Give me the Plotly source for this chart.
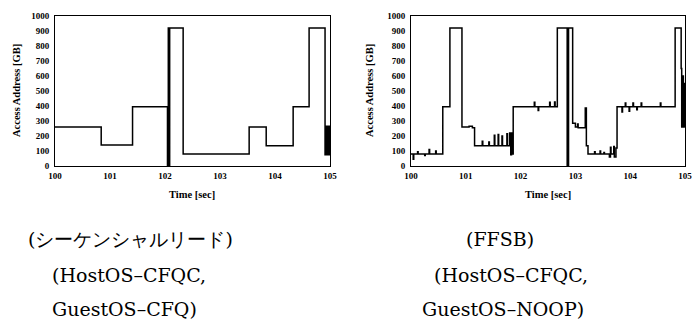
import plotly.graph_objects as go

# ---- data ----
left_t = [100.0, 100.84, 101.41, 102.045, 102.06, 102.075, 102.085,
          102.33, 103.53, 103.84, 104.33, 104.62, 104.91, 104.93, 104.945, 104.96,
          104.975, 104.99, 105.0]
left_v = [260, 140, 395, 5, 920, 5, 920,
          80, 260, 135, 395, 920, 75, 265, 75, 265,
          75, 265, 265]

right_t = [100.0, 100.04, 100.05, 100.12, 100.13, 100.25, 100.26, 100.33, 100.34,
           100.45, 100.46, 100.58, 100.71, 100.93, 101.06, 101.12, 101.16, 101.30,
           101.31, 101.42, 101.43, 101.52, 101.53, 101.59, 101.60, 101.66, 101.67,
           101.75, 101.76, 101.80, 101.82, 101.835, 101.85, 101.865, 102.25, 102.26,
           102.32, 102.33, 102.53, 102.54, 102.62, 102.63, 102.67, 102.85, 102.875,
           102.95, 103.0, 103.04, 103.05, 103.18, 103.20, 103.23,
           103.35, 103.36, 103.45, 103.46, 103.52, 103.53, 103.62, 103.64, 103.65,
           103.70, 103.71, 103.74, 103.76, 103.85, 103.86, 103.91, 103.92, 103.98,
           103.99, 104.05, 104.06, 104.12, 104.13, 104.20, 104.21, 104.55, 104.56,
           104.82, 104.93, 104.94, 104.955, 104.97, 104.985, 105.0]
right_v = [80, 45, 80, 95, 80, 70, 80, 110, 80,
           100, 80, 395, 920, 260, 265, 255, 135, 165,
           135, 160, 135, 205, 135, 210, 135, 200, 135,
           215, 135, 220, 75, 220, 80, 395, 425, 395,
           370, 395, 425, 395, 427, 395, 920, 0, 920,
           285, 260, 280, 255, 387, 135, 80,
           95, 80, 100, 80, 90, 80, 60, 125, 80,
           130, 60, 120, 395, 360, 395, 420, 395, 365,
           395, 420, 395, 375, 395, 420, 395, 420, 395,
           920, 650, 260, 600, 260, 550, 260]

x_ticks = [100, 101, 102, 103, 104, 105]
y_ticks = [0, 100, 200, 300, 400, 500, 600, 700, 800, 900, 1000]

x_title = "Time [sec]"
y_title = "Access Address [GB]"
captions_left = ["(シーケンシャルリード)", "(HostOS–CFQC,", "GuestOS–CFQ)"]
captions_right = ["(FFSB)", "(HostOS–CFQC,", "GuestOS–NOOP)"]

# ---- figure ----
W, H = 694, 332
fig = go.Figure()
fig.add_trace(go.Scatter(x=left_t, y=left_v, mode="lines", line_shape="hv",
                         line=dict(color="black", width=1.5), xaxis="x", yaxis="y",
                         showlegend=False, hoverinfo="skip"))
fig.add_trace(go.Scatter(x=right_t, y=right_v, mode="lines", line_shape="hv",
                         line=dict(color="black", width=1.5), xaxis="x2", yaxis="y2",
                         showlegend=False, hoverinfo="skip"))

def px_x(p):
    return p / W

def px_y(p):
    return 1 - p / H

tickfont = dict(family="Liberation Serif", size=9, color="black", weight="bold")
ax_common = dict(showgrid=False, zeroline=False, showline=True, linecolor="black",
                 linewidth=1, mirror=True, ticks="", tickfont=tickfont, automargin=False,
                 ticklabeloverflow="allow")

fig.update_layout(
    template="none",
    width=W, height=H, margin=dict(l=0, r=0, t=0, b=0, pad=0),
    paper_bgcolor="white", plot_bgcolor="white",
    xaxis=dict(domain=[px_x(55), px_x(330)], range=[100, 105], tickvals=x_ticks,
               anchor="y", ticklabelstandoff=1, **ax_common),
    yaxis=dict(domain=[px_y(166), px_y(16)], range=[0, 1000], tickvals=y_ticks,
               anchor="x", ticklabelstandoff=3, **ax_common),
    xaxis2=dict(domain=[px_x(411), px_x(685)], range=[100, 105], tickvals=x_ticks,
                anchor="y2", ticklabelstandoff=1, **ax_common),
    yaxis2=dict(domain=[px_y(166), px_y(16)], range=[0, 1000], tickvals=y_ticks,
                anchor="x2", ticklabelstandoff=3, **ax_common),
)

titlefont = dict(family="Liberation Serif", size=10.5, color="black", weight="bold")
annots = []
for cx, yx in [(192, 16), (548, 369)]:
    annots.append(dict(text=x_title, x=px_x(cx), y=px_y(194), xref="paper", yref="paper",
                       showarrow=False, font=titlefont, xanchor="center", yanchor="middle"))
    annots.append(dict(text=y_title, x=px_x(yx), y=px_y(91), xref="paper", yref="paper",
                       showarrow=False, font=titlefont, textangle=-90,
                       xanchor="center", yanchor="middle"))

cap_sizes = [19, 19, 19]
cap_y = [239, 275, 309]
left_cx = [130, 129, 124]
right_cx = [500, 511, 503]
for txt, cx, cy, fs in zip(captions_left, left_cx, cap_y, cap_sizes):
    annots.append(dict(text=txt, x=px_x(cx), y=px_y(cy), xref="paper", yref="paper",
                       showarrow=False, font=dict(family="DejaVu Serif", size=fs, color="black"),
                       xanchor="center", yanchor="middle"))
for txt, cx, cy, fs in zip(captions_right, right_cx, cap_y, cap_sizes):
    annots.append(dict(text=txt, x=px_x(cx), y=px_y(cy), xref="paper", yref="paper",
                       showarrow=False, font=dict(family="DejaVu Serif", size=fs, color="black"),
                       xanchor="center", yanchor="middle"))
fig.update_layout(annotations=annots)

fig.write_html("out.html", config={"displayModeBar": False},
               post_script="document.body.style.margin='0';")
